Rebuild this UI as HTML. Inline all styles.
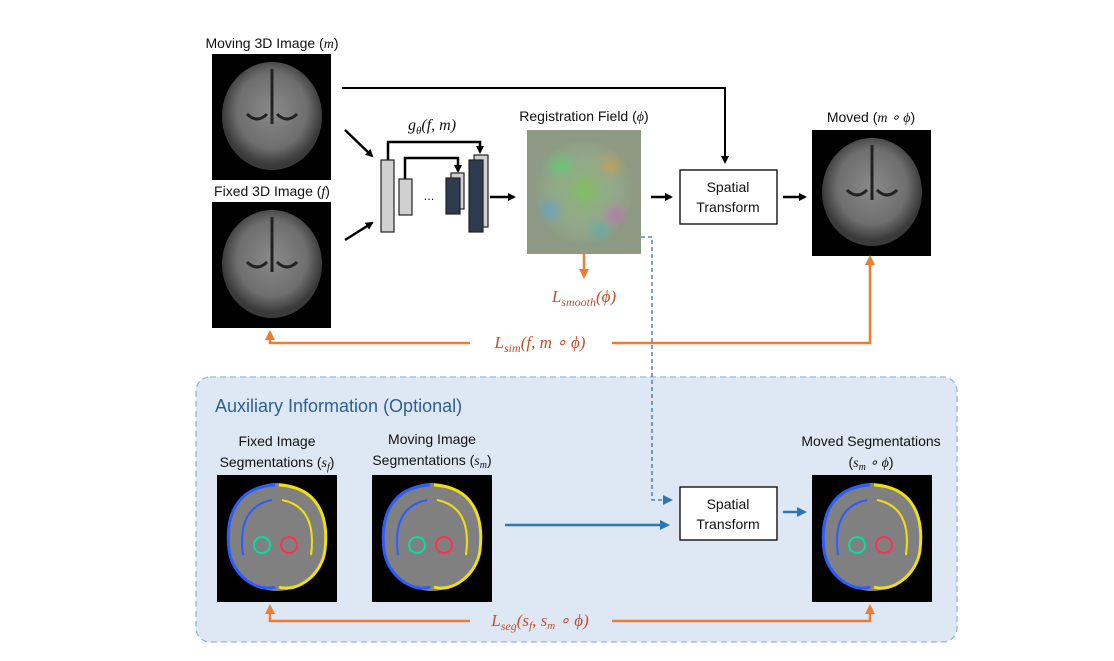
<!DOCTYPE html>
<html><head><meta charset="utf-8"><style>
body{margin:0;background:#fff}
svg{display:block;font-family:"Liberation Sans",sans-serif}
.lbl{font-size:14px;fill:#111;text-anchor:middle}
.mth{font-family:"Liberation Serif",serif;font-style:italic}
.orl{font-family:"Liberation Serif",serif;font-style:italic;fill:#c0502a;font-size:17px;text-anchor:middle}
</style></head><body>
<svg width="1114" height="661" viewBox="0 0 1114 661">
<defs>
<marker id="ak" markerWidth="8" markerHeight="8" refX="6" refY="4" orient="auto" markerUnits="userSpaceOnUse"><path d="M0,0L8,4L0,8z" fill="#000"/></marker>
<marker id="ao" markerWidth="10" markerHeight="10" refX="7" refY="5" orient="auto" markerUnits="userSpaceOnUse"><path d="M0,0L10,5L0,10z" fill="#ed7d31"/></marker>
<marker id="ab" markerWidth="10" markerHeight="10" refX="7" refY="5" orient="auto" markerUnits="userSpaceOnUse"><path d="M0,0L10,5L0,10z" fill="#2e75b6"/></marker>
<radialGradient id="brain" cx="50%" cy="45%" r="50%"><stop offset="0" stop-color="#8a8a8a"/><stop offset="0.7" stop-color="#6e6e6e"/><stop offset="1" stop-color="#3a3a3a"/></radialGradient>
<radialGradient id="field" cx="50%" cy="50%" r="55%"><stop offset="0" stop-color="#8db27a"/><stop offset="0.6" stop-color="#93a88a"/><stop offset="1" stop-color="#8c9a82"/></radialGradient>
<filter id="blur"><feGaussianBlur stdDeviation="5"/></filter>
<g id="brainimg"><rect width="119" height="126" fill="#000"/><ellipse cx="60" cy="62" rx="50" ry="54" fill="url(#brain)"/><path d="M60,15 L60,70 M35,60 q10,10 20,0 M65,60 q10,10 20,0" stroke="#222" stroke-width="3" fill="none"/></g>
<g id="segimg"><rect width="120" height="127" fill="#000"/><ellipse cx="60" cy="62" rx="50" ry="54" fill="#808080"/><path d="M58,10 C20,12 8,40 12,75 C15,100 40,118 58,112" stroke="#2a5cff" stroke-width="3" fill="none"/><path d="M62,10 C100,12 112,40 108,75 C105,100 80,118 62,112" stroke="#f0e010" stroke-width="3" fill="none"/><path d="M55,25 C30,30 22,50 26,80" stroke="#2a5cff" stroke-width="2" fill="none"/><path d="M65,25 C90,30 98,50 94,80" stroke="#f0e010" stroke-width="2" fill="none"/><circle cx="45" cy="70" r="8" stroke="#00e0a0" stroke-width="2" fill="none"/><circle cx="72" cy="70" r="8" stroke="#ff3050" stroke-width="2" fill="none"/></g>
</defs>

<text class="lbl" x="272" y="48">Moving 3D Image (<tspan class="mth">m</tspan>)</text>
<use href="#brainimg" x="212" y="54"/>
<text class="lbl" x="272" y="196">Fixed 3D Image (<tspan class="mth">f</tspan>)</text>
<use href="#brainimg" x="212" y="202"/>
<line x1="345" y1="130" x2="372" y2="156" stroke="#000" stroke-width="2.5" marker-end="url(#ak)"/>
<line x1="345" y1="240" x2="372" y2="223" stroke="#000" stroke-width="2.5" marker-end="url(#ak)"/>

<g stroke="#222" stroke-width="1.2">
<text x="432" y="130" font-family="Liberation Serif" font-style="italic" font-size="16" text-anchor="middle" stroke="none" fill="#111">g<tspan font-size="11" dy="4">θ</tspan><tspan dy="-4">(f, m)</tspan></text>
<path d="M388,160V142H480V152" fill="none" stroke="#000" stroke-width="2.5" marker-end="url(#ak)"/>
<path d="M405,179V158H458V171" fill="none" stroke="#000" stroke-width="2.5" marker-end="url(#ak)"/>
<rect x="381" y="160" width="13" height="72" fill="#d0d0d0"/>
<rect x="399" y="179" width="13" height="36" fill="#d0d0d0"/>
<text x="429" y="200" font-size="13" text-anchor="middle" stroke="none" fill="#111">...</text>
<rect x="451" y="173" width="13" height="36" fill="#d0d0d0"/>
<rect x="446" y="178" width="14" height="36" fill="#2d3a50"/>
<rect x="474" y="155" width="14" height="72" fill="#d0d0d0"/>
<rect x="469" y="160" width="14" height="72" fill="#2d3a50"/>
</g>
<line x1="490" y1="197" x2="514" y2="197" stroke="#000" stroke-width="2.5" marker-end="url(#ak)"/>

<text class="lbl" x="584" y="121">Registration Field (<tspan class="mth">ϕ</tspan>)</text>
<g>
<rect x="527" y="130" width="114" height="124" fill="#8e9a84"/>
<ellipse cx="584" cy="192" rx="48" ry="52" fill="url(#field)"/>
<g filter="url(#blur)" opacity="0.7">
<circle cx="560" cy="165" r="10" fill="#5ad070"/><circle cx="610" cy="165" r="9" fill="#d0a050"/>
<circle cx="550" cy="210" r="9" fill="#60a0d0"/><circle cx="615" cy="215" r="9" fill="#c070b0"/>
<circle cx="585" cy="190" r="12" fill="#80c060"/><circle cx="600" cy="230" r="8" fill="#50b0b0"/>
</g></g>
<line x1="584" y1="254" x2="584" y2="276" stroke="#ed7d31" stroke-width="2.5" marker-end="url(#ao)"/>
<text class="orl" x="584" y="302">L<tspan font-size="12" dy="4">smooth</tspan><tspan dy="-4">(ϕ)</tspan></text>
<line x1="651" y1="197" x2="671" y2="197" stroke="#000" stroke-width="2.5" marker-end="url(#ak)"/>

<path d="M342,88H725V162" fill="none" stroke="#000" stroke-width="2" marker-end="url(#ak)"/>
<rect x="680" y="170" width="97" height="54" fill="#fff" stroke="#000" stroke-width="1.3"/>
<text class="lbl" x="728" y="192">Spatial</text><text class="lbl" x="728" y="212">Transform</text>
<line x1="783" y1="197" x2="805" y2="197" stroke="#000" stroke-width="2.5" marker-end="url(#ak)"/>
<text class="lbl" x="871" y="122">Moved  (<tspan class="mth">m ∘ ϕ</tspan>)</text>
<use href="#brainimg" x="812" y="130"/>

<path d="M470,343H270V333" fill="none" stroke="#ed7d31" stroke-width="2.5" marker-end="url(#ao)"/>
<path d="M612,343H870V258" fill="none" stroke="#ed7d31" stroke-width="2.5" marker-end="url(#ao)"/>
<text class="orl" x="540" y="348">L<tspan font-size="12" dy="4">sim</tspan><tspan dy="-4">(f, m ∘ ϕ)</tspan></text>

<rect x="196" y="377" width="761" height="265" rx="14" fill="#dde8f4" stroke="#8fb6de" stroke-width="1.3" stroke-dasharray="6,4"/>
<path d="M641,237H652V500H670" fill="none" stroke="#2e75b6" stroke-width="1.3" stroke-dasharray="4,3" marker-end="url(#ab)"/>
<text x="215" y="412" font-size="18" fill="#2e5f95">Auxiliary Information (Optional)</text>
<text class="lbl" x="277" y="446">Fixed Image</text>
<text class="lbl" x="277" y="467">Segmentations (<tspan class="mth">s<tspan font-size="10" dy="3">f</tspan></tspan><tspan dy="-3">)</tspan></text>
<use href="#segimg" x="217" y="475"/>
<text class="lbl" x="432" y="444">Moving Image</text>
<text class="lbl" x="432" y="465">Segmentations (<tspan class="mth">s<tspan font-size="10" dy="3">m</tspan></tspan><tspan dy="-3">)</tspan></text>
<use href="#segimg" x="372" y="475"/>
<line x1="505" y1="525" x2="667" y2="525" stroke="#2e75b6" stroke-width="2.5" marker-end="url(#ab)"/>
<rect x="680" y="487" width="97" height="53" fill="#fff" stroke="#000" stroke-width="1.3"/>
<text class="lbl" x="728" y="509">Spatial</text><text class="lbl" x="728" y="529">Transform</text>
<line x1="783" y1="512" x2="804" y2="512" stroke="#2e75b6" stroke-width="2.5" marker-end="url(#ab)"/>
<text class="lbl" x="871" y="446">Moved Segmentations</text>
<text class="lbl" x="871" y="467">(<tspan class="mth">s<tspan font-size="10" dy="3">m</tspan></tspan><tspan class="mth" dy="-3"> ∘ ϕ</tspan>)</text>
<use href="#segimg" x="812" y="475"/>
<path d="M470,621H270V607" fill="none" stroke="#ed7d31" stroke-width="2.5" marker-end="url(#ao)"/>
<path d="M612,621H870V607" fill="none" stroke="#ed7d31" stroke-width="2.5" marker-end="url(#ao)"/>
<text class="orl" x="540" y="626">L<tspan font-size="12" dy="4">seg</tspan><tspan dy="-4">(s</tspan><tspan font-size="11" dy="3">f</tspan><tspan dy="-3">, s</tspan><tspan font-size="11" dy="3">m</tspan><tspan dy="-3"> ∘ ϕ)</tspan></text>
</svg>
</body></html>
